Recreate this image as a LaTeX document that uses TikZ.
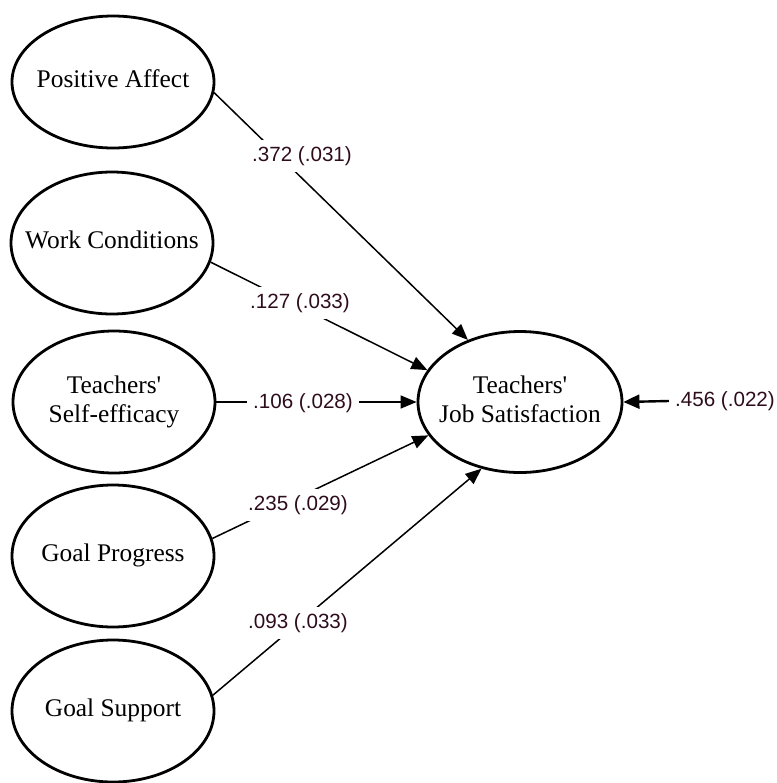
\documentclass[tikz,border=0pt]{standalone}
\usepackage{fontspec}
\setmainfont{Liberation Serif}
\newfontfamily\coeffont{Liberation Sans}
\usetikzlibrary{arrows.meta,shapes.geometric}
\definecolor{coef}{RGB}{45,12,28}
% zero-width centred label, so that the ellipse keeps its given size
\newcommand\lvtext[1]{\makebox[0pt]{\begin{tabular}{@{}c@{}}#1\end{tabular}}}
\begin{document}
\begin{tikzpicture}[x=0.5pt,y=-0.5pt,
  latent/.style={ellipse,draw,line width=1.4pt,fill=white,
    minimum width=101pt,minimum height=71pt,inner sep=0pt,
    font=\fontsize{12.7}{14.5}\selectfont},
  coefficient/.style={fill=white,inner sep=3pt,text=coef,
    font=\coeffont\fontsize{10.3}{12}\selectfont},
  effect/.style={line width=0.75pt,-{Triangle[length=8pt,width=6.5pt]}},
  residual/.style={line width=1.2pt,-{Triangle[length=8pt,width=7pt]}},
]
\useasboundingbox (0,0) rectangle (777,783);

% latent variables
\node[latent,minimum height=66pt] (pa) at (113,82) {\lvtext{Positive Affect}};
\node[latent] (wc) at (112,243) {\lvtext{Work Conditions}};
\node[latent] (se) at (114,402) {\lvtext{Teachers\textquotesingle\\Self-efficacy}};
\node[latent] (gp) at (113,556) {\lvtext{Goal Progress}};
\node[latent] (gs) at (113,711) {\lvtext{Goal Support}};
\node[latent,minimum width=102pt,minimum height=70.5pt] (js) at (520,402)
  {\lvtext{Teachers\textquotesingle\\Job Satisfaction}};

% structural paths
\draw[effect] (pa.-6) -- (js.130);
\draw[effect] (wc.-11) -- (js.161);
\draw[effect] (se.east) -- (js.west);
\draw[effect] (gp.10) -- (js.200.5);
\draw[effect] (gs.9) -- (js.240);

% path coefficients (standard errors)
\node[coefficient] (c1) at (302,156) {.372 (.031)};
\node[coefficient] (c2) at (300,303) {.127 (.033)};
\node[coefficient] (c3) at (303,403) {.106 (.028)};
\node[coefficient] (c4) at (298,505) {.235 (.029)};
\node[coefficient] (c5) at (298,623) {.093 (.033)};

% residual variance
\node[coefficient] (c6) at (725,401) {.456 (.022)};
\draw[residual] (c6.west) -- (js.east);
\end{tikzpicture}
\end{document}
